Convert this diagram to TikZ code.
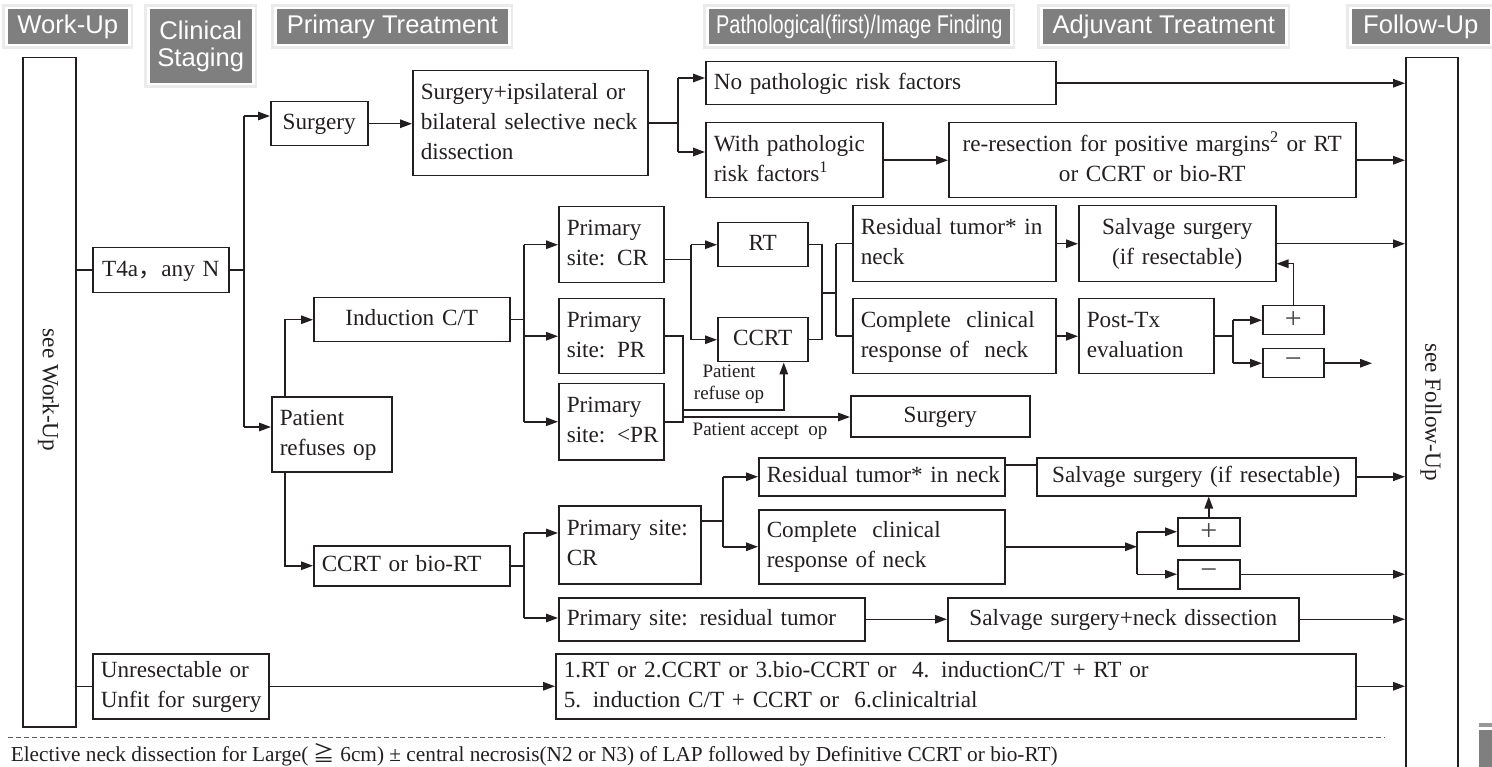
\documentclass[tikz,border=0pt]{standalone}
\usepackage{fontspec}
\usepackage{graphicx}
\setmainfont{Liberation Serif}
\newfontfamily\hdrfont{Liberation Sans}
\newfontfamily\cjkfont{Noto Sans CJK SC}
\usetikzlibrary{arrows.meta,calc}
\definecolor{ink}{RGB}{35,31,32}
\definecolor{hdrgray}{RGB}{127,127,127}

% multi-line cell contents that never re-wrap
\newcommand\llines[1]{\noindent\begin{tabular}{@{}l@{}}#1\end{tabular}}
\newcommand\clines[1]{\begin{tabular}{@{}c@{}}#1\end{tabular}}

% \flowbox[opts]{name}{x1}{y1}{x2}{y2}{text}: framed box given by its corners
\newcommand\flowbox[7][]{%
  \pgfmathsetlengthmacro\fbW{(#5-#3)*1pt}%
  \pgfmathsetlengthmacro\fbH{(#6-#4)*1pt}%
  \pgfmathsetlengthmacro\fbT{(#5-#3-16)*1pt}%
  \node[box,anchor=north west,minimum width=\fbW,minimum height=\fbH,text width=\fbT,#1] (#2) at (#3,#4) {#7};}

% \headbox{name}{x1}{y1}{x2}{y2}{text}: grey column heading
\newcommand\headbox[6]{%
  \pgfmathsetlengthmacro\hbW{(#4-#2)*1pt}%
  \pgfmathsetlengthmacro\hbH{(#5-#3)*1pt}%
  \node[hdr,anchor=north west,minimum width=\hbW,minimum height=\hbH] (#1) at (#2,#3) {#6};}

\begin{document}
\begin{tikzpicture}[x=1pt,y=-1pt,color=ink,line width=1.5pt,
  box/.style={draw=ink,line width=1.5pt,inner xsep=8pt,inner ysep=0pt,align=left,
    font=\fontsize{23.2}{30}\selectfont,text=ink},
  hdr/.style={fill=hdrgray,draw=white,line width=2.5pt,
    preaction={draw=black!8,line width=8pt},
    text=white,align=center,inner sep=0pt,
    font=\hdrfont\fontsize{25.6}{27}\selectfont},
  arr/.style={-{Triangle[length=12pt,width=8.5pt]}},
  lbl/.style={font=\fontsize{19}{22}\selectfont,text=ink,inner sep=0pt},
  vtxt/.style={rotate=-90,font=\fontsize{23.2}{30}\selectfont,text=ink,inner sep=0pt},
  pm/.style={align=center,text=black!72,font=\fontsize{30}{30}\selectfont}]
\useasboundingbox (0,0) rectangle (1492,767);

% ---- column headings
\headbox{hwu}{5}{7}{128}{44}{Work-Up}
\headbox{hcs}{147}{7}{252}{83}{Clinical\\Staging}
\headbox{hpt}{274}{7}{508}{44}{Primary Treatment}
\headbox{hpf}{706}{7}{1010}{44}{\scalebox{0.78}[1]{Pathological(first)/Image Finding}}
\headbox{hat}{1040}{7}{1285}{44}{Adjuvant Treatment}
\headbox{hfu}{1349}{7}{1490}{44}{Follow-Up}

% ---- side columns
\flowbox{wu}{22}{57}{75}{726}{}
\flowbox{fu}{1405}{57}{1457}{768}{}
\node[vtxt] (wut) at (48.5,390) {see Work-Up};
\node[vtxt] (fut) at (1431,412) {see Follow-Up};

% ---- staging and surgical branch
\flowbox[align=center]{t4a}{92}{247}{228}{292}{\clines{T4a{\cjkfont ，}any N}}
\flowbox[align=center]{surg}{270}{101}{367}{145}{\clines{Surgery}}
\flowbox{surgp}{412}{70}{647}{175}{\llines{Surgery+ipsilateral or\\bilateral selective neck\\dissection}}
\flowbox{nop}{705}{61}{1055}{104}{\llines{No pathologic risk factors}}
\flowbox{wp}{705}{122}{882}{197}{\llines{With pathologic\\risk factors\textsuperscript{1}}}
\flowbox[align=center]{rer}{948}{122}{1355}{197}{\clines{re-resection for positive margins\textsuperscript{2} or RT\\or CCRT or bio-RT}}

% ---- non-surgical branch
\flowbox{pat}{271}{396}{391}{471}{\llines{Patient\\refuses op}}
\flowbox[align=center]{ind}{313}{297}{509}{341}{\clines{Induction C/T}}
\flowbox{cbio}{313}{545}{509}{585}{\llines{CCRT or bio-RT}}

\flowbox{cr}{558}{206}{663}{282}{\llines{Primary\\site: CR}}
\flowbox{pr}{558}{298}{663}{373}{\llines{Primary\\site: PR}}
\flowbox{lpr}{558}{383}{663}{459}{\llines{Primary\\site: <PR}}
\flowbox[align=center]{rt}{717}{222}{807}{266}{\clines{RT}}
\flowbox[align=center]{ccrt}{717}{317}{807}{361}{\clines{CCRT}}
\flowbox{res}{852}{205}{1055}{281}{\llines{Residual tumor* in\\neck}}
\flowbox{cmp}{852}{298}{1055}{373}{\llines{Complete~~clinical\\response of~~neck}}
\flowbox[align=center]{sal}{1078}{205}{1275}{281}{\clines{Salvage surgery\\(if resectable)}}
\flowbox{ptx}{1078}{298}{1213}{373}{\llines{Post-Tx\\evaluation}}
\flowbox[pm]{plus}{1262}{305}{1323}{334}{+}
\flowbox[pm]{minus}{1262}{348}{1323}{377}{−}
\flowbox[align=center]{surg2}{850}{395}{1029}{436}{\clines{Surgery}}

\flowbox{lcr}{558}{505}{700}{583}{\llines{Primary site:\\CR}}
\flowbox{lres}{758}{457}{1004}{495}{\llines{Residual tumor* in neck}}
\flowbox{lcmp}{758}{509}{1004}{583}{\llines{Complete~~clinical\\response of neck}}
\flowbox[align=center]{lsal}{1036}{457}{1355}{495}{\clines{Salvage surgery (if resectable)}}
\flowbox[pm]{lplus}{1177}{517}{1239}{545}{+}
\flowbox[pm]{lminus}{1177}{559}{1239}{588}{−}
\flowbox{prt}{558}{597}{864}{640}{\llines{Primary site: residual tumor}}
\flowbox[align=center]{sn}{947}{597}{1298}{640}{\clines{Salvage surgery+neck dissection}}

% ---- unresectable branch
\flowbox{unr}{92}{653}{268}{718}{\llines{Unresectable or\\Unfit for surgery}}
\flowbox{opt}{555}{653}{1355}{718}{\llines{1.RT or 2.CCRT or 3.bio-CCRT or~~4. inductionC/T + RT or\\5. induction C/T + CCRT or~~6.clinicaltrial}}

% ---- connectors: staging bus
\coordinate (busT) at (244,116);
\coordinate (busB) at (244,427);
\draw (wu.east |- t4a.west) -- (t4a.west);
\draw (t4a.east) -- (t4a.east -| busT);
\draw (busT) -- (busB);
\draw[arr] (busT) -- (busT -| surg.west);
\draw[arr] (busB) -- (busB -| pat.west);

% surgical branch
\draw[arr] (surg.east) -- (surg.east -| surgp.west);
\coordinate (ja) at (678,78);
\coordinate (jb) at (678,152);
\draw (surgp.east) -- (surgp.east -| ja);
\draw (ja) -- (jb);
\draw[arr] (ja) -- (ja -| nop.west);
\draw[arr] (jb) -- (jb -| wp.west);
\draw[arr] (nop.east) -- (nop.east -| fu.west);
\draw[arr] (wp.east) -- (wp.east -| rer.west);
\draw[arr] (rer.east) -- (rer.east -| fu.west);

% patient refuses op
\coordinate (px) at (285,0);
\draw[arr] (pat.north -| px) |- (ind.west);
\draw[arr] (pat.south -| px) |- (cbio.west);

% induction C/T outcomes
\coordinate (jc) at (524,0);
\draw (ind.east) -- (ind.east -| jc);
\draw (jc |- cr.west) -- (jc |- lpr.west);
\draw[arr] (jc |- cr.west) -- (cr.west);
\draw[arr] (jc |- pr.west) -- (pr.west);
\draw[arr] (jc |- lpr.west) -- (lpr.west);

\coordinate (crx) at ([yshift=-15pt]cr.east);
\coordinate (jd) at (691,0);
\draw (crx) -- (crx -| jd);
\draw (jd |- rt.west) -- (jd |- ccrt.west);
\draw[arr] (jd |- rt.west) -- (rt.west);
\draw[arr] (jd |- ccrt.west) -- (ccrt.west);

\coordinate (je) at (822,293);
\coordinate (jf) at (836,0);
\draw (rt.east) -| (je |- ccrt.east) -- (ccrt.east);
\draw (je) -- (je -| jf);
\draw (jf |- res.west) -- (jf |- cmp.west);
\draw (jf |- res.west) -- (res.west);
\draw (jf |- cmp.west) -- (cmp.west);

\draw[arr] (res.east) -- (res.east -| sal.west);
\draw[arr] (sal.east) -- (sal.east -| fu.west);
\draw[arr] (cmp.east) -- (cmp.east -| ptx.west);
\coordinate (jg) at (1233,0);
\draw (ptx.east) -- (ptx.east -| jg);
\draw (jg |- plus.west) -- (jg |- minus.west);
\draw[arr] (jg |- plus.west) -- (plus.west);
\draw[arr] (jg |- minus.west) -- (minus.west);
\coordinate (salin) at ([yshift=-20pt]sal.east);
\draw[arr] (plus.north) |- (salin);
\coordinate (mend) at (1372,0);
\draw[arr] (minus.east) -- (minus.east -| mend);

% partial / poor response
\coordinate (jh) at (683,0);
\draw (pr.east) -| (jh |- lpr.east) -- (lpr.east);
\coordinate (rf) at (683,410);
\coordinate (ccin) at ([xshift=21pt]ccrt.south);
\draw[arr] (rf) -| (ccin);
\coordinate (ac) at (683,417);
\draw[arr] (ac) -- (ac -| surg2.west);
\node[lbl] (lrf) at (729,384) {\clines{Patient\\refuse op}};
\node[lbl] (lac) at (760,431) {Patient accept~~op};

% CCRT or bio-RT outcomes
\coordinate (ji1) at (524,533);
\coordinate (ji2) at (524,618);
\draw (cbio.east) -- (cbio.east -| ji1);
\draw (ji1) -- (ji2);
\draw[arr] (ji1) -- (ji1 -| lcr.west);
\draw[arr] (ji2) -- (ji2 -| prt.west);

\coordinate (jj) at (723,521);
\draw (lcr.east |- jj) -- (jj);
\draw (jj |- lres.west) -- (jj |- lcmp.west);
\draw[arr] (jj |- lres.west) -- (lres.west);
\draw[arr] (jj |- lcmp.west) -- (lcmp.west);
\coordinate (k1) at (0,465);
\draw (lres.east |- k1) -- (lsal.west |- k1);
\draw[arr] (lsal.east) -- (lsal.east -| fu.west);
\coordinate (jk) at (1137,0);
\draw[arr] (lcmp.east) -- (lcmp.east -| jk);
\draw (jk |- lplus.west) -- (jk |- lminus.west);
\draw[arr] (jk |- lplus.west) -- (lplus.west);
\draw[arr] (jk |- lminus.west) -- (lminus.west);
\draw[arr] (lplus.north) -- (lplus.north |- lsal.south);
\draw[arr] (lminus.east) -- (lminus.east -| fu.west);
\draw[arr] (prt.east) -- (prt.east -| sn.west);
\draw[arr] (sn.east) -- (sn.east -| fu.west);

% unresectable
\draw (wu.east |- unr.west) -- (unr.west);
\draw[arr] (unr.east) -- (unr.east -| opt.west);
\draw[arr] (opt.east) -- (opt.east -| fu.west);

% ---- footnote
\coordinate (d1) at (8,737);
\coordinate (d2) at (1385,737);
\draw[ink!75,line width=1pt,dash pattern=on 4.5pt off 3.5pt] (d1) -- (d2);
\node[anchor=base west,inner sep=0pt,font=\fontsize{21.3}{24}\selectfont,text=ink] (fn) at (10,761)
  {Elective neck dissection for Large( {\cjkfont ≧} 6cm) ± central necrosis(N2 or N3) of LAP followed by Definitive CCRT or bio-RT)};

% ---- page-edge tab
\fill[hdrgray] (1479,730) rectangle (1492,767);
\fill[hdrgray!80] (1479,723) rectangle (1492,727);
\end{tikzpicture}
\end{document}
